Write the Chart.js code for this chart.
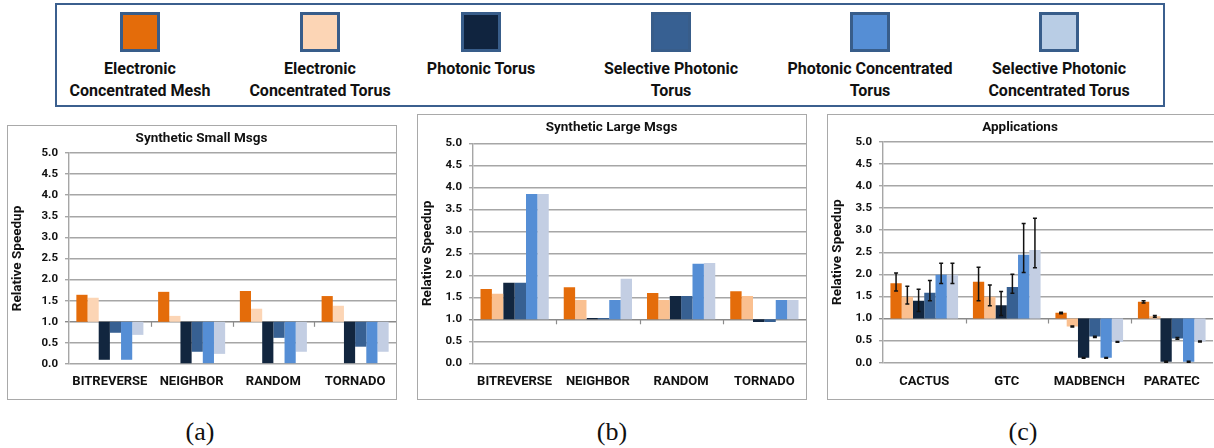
<!DOCTYPE html>
<html>
<head>
<meta charset="utf-8">
<script src="https://cdn.jsdelivr.net/npm/chart.js@4.4.1/dist/chart.umd.min.js"></script>
<style>
html,body{margin:0;padding:0;background:#fff;}
#root{position:relative;width:1214px;height:448px;overflow:hidden;background:#fff;}
.box{position:absolute;box-sizing:border-box;border:1.5px solid #a9a9a9;}
canvas{position:absolute;}
#legend{position:absolute;left:55px;top:3px;width:1110px;height:104px;box-sizing:border-box;border:2.5px solid #3b5f8e;}
.li{position:absolute;width:230px;text-align:center;font-family:Roboto,'Liberation Sans',sans-serif;font-weight:bold;font-size:16px;line-height:22px;color:#111;white-space:pre-line;}
.sw{position:absolute;width:40px;height:40px;box-sizing:border-box;border:3px solid #385d8a;}
.cap{position:absolute;width:80px;text-align:center;font-family:'Liberation Serif','DejaVu Serif',serif;font-size:26px;line-height:30px;color:#111;}
</style>
</head>
<body>
<div id="root">
  <div id="legend"></div>
  <div class="box" style="left:7px;top:125px;width:390px;height:275px;"></div>
  <div class="box" style="left:417px;top:114px;width:390px;height:286px;"></div>
  <div class="box" style="left:827px;top:114px;width:390px;height:286px;"></div>
  <canvas id="cA" width="390" height="275" style="left:7px;top:125px;"></canvas>
  <canvas id="cB" width="390" height="286" style="left:417px;top:114px;"></canvas>
  <canvas id="cC" width="388" height="286" style="left:827px;top:114px;"></canvas>
  <div class="cap" style="left:160px;top:417px;">(a)</div>
  <div class="cap" style="left:572px;top:417px;">(b)</div>
  <div class="cap" style="left:983px;top:417px;">(c)</div>
</div>
<script>
// ---------- DATA ----------
const seriesNames = [
  'Electronic\nConcentrated Mesh',
  'Electronic\nConcentrated Torus',
  'Photonic Torus',
  'Selective Photonic\nTorus',
  'Photonic Concentrated\nTorus',
  'Selective Photonic\nConcentrated Torus'
];
const syntheticCategories = ['BITREVERSE', 'NEIGHBOR', 'RANDOM', 'TORNADO'];
const appCategories = ['CACTUS', 'GTC', 'MADBENCH', 'PARATEC'];
const yTicks = [0, 0.5, 1, 1.5, 2, 2.5, 3, 3.5, 4, 4.5, 5];

// Synthetic Small Msgs (one array per series, over the categories)
const smallECM  = [1.64, 1.71, 1.73, 1.61];
const smallECT  = [1.57, 1.14, 1.31, 1.38];
const smallPT   = [0.10, 0.00, 0.02, 0.02];
const smallSPT  = [0.74, 0.29, 0.62, 0.41];
const smallPCT  = [0.10, 0.02, 0.02, 0.02];
const smallSPCT = [0.69, 0.24, 0.29, 0.29];

// Synthetic Large Msgs
const largeECM  = [1.69, 1.73, 1.60, 1.64];
const largeECT  = [1.58, 1.44, 1.44, 1.53];
const largePT   = [1.83, 1.03, 1.53, 0.94];
const largeSPT  = [1.83, 1.03, 1.53, 0.94];
const largePCT  = [3.85, 1.44, 2.26, 1.44];
const largeSPCT = [3.85, 1.92, 2.28, 1.44];

// Applications
const appECM  = [1.80, 1.83, 1.13, 1.38];
const appECT  = [1.49, 1.49, 0.82, 1.05];
const appPT   = [1.40, 1.30, 0.11, 0.02];
const appSPT  = [1.58, 1.71, 0.59, 0.55];
const appPCT  = [1.99, 2.44, 0.11, 0.02];
const appSPCT = [1.99, 2.55, 0.47, 0.48];

// Applications error bars (low / high)
const appECMLow   = [1.62, 1.40, 1.11, 1.35];
const appECMHigh  = [2.03, 2.16, 1.14, 1.40];
const appECTLow   = [1.33, 1.29, 0.81, 1.03];
const appECTHigh  = [1.73, 1.76, 0.83, 1.07];
const appPTLow    = [1.16, 1.07, 0.10, 0.01];
const appPTHigh   = [1.66, 1.61, 0.12, 0.03];
const appSPTLow   = [1.40, 1.57, 0.57, 0.53];
const appSPTHigh  = [1.86, 2.00, 0.60, 0.57];
const appPCTLow   = [1.79, 2.04, 0.10, 0.01];
const appPCTHigh  = [2.25, 3.15, 0.12, 0.03];
const appSPCTLow  = [1.79, 2.15, 0.46, 0.47];
const appSPCTHigh = [2.25, 3.27, 0.48, 0.49];

const baseline = 1.0;

// ---------- STYLES ----------
const legendColors = ['#e46c0a', '#fcd5b5', '#10243f', '#376092', '#558ed5', '#b9cde5'];
const colorsA = ['#e46c0a', '#fcd5b5', '#12263f', '#376092', '#558ed5', '#c3cee3'];
const colorsBC = ['#e46c0a', '#fac090', '#12263f', '#376092', '#558ed5', '#c3cee3'];
const legendCenters = [140, 320, 481, 671, 870, 1059];
const FONT = "Roboto, 'Liberation Sans', sans-serif";

// ---------- LEGEND ----------
const root = document.getElementById('root');
seriesNames.forEach((name, i) => {
  const sw = document.createElement('div');
  sw.className = 'sw';
  sw.style.left = (legendCenters[i] - 20) + 'px';
  sw.style.top = '12px';
  sw.style.background = legendColors[i];
  root.appendChild(sw);
  const t = document.createElement('div');
  t.className = 'li';
  t.style.left = (legendCenters[i] - 115) + 'px';
  t.style.top = '58px';
  t.textContent = name;
  root.appendChild(t);
});

// ---------- PLUGINS ----------
const catTicks = {
  id: 'catTicks',
  afterDatasetsDraw(chart) {
    const xs = chart.scales.x, ys = chart.scales.y, ctx = chart.ctx;
    const y1 = ys.getPixelForValue(baseline);
    ctx.save();
    ctx.strokeStyle = '#8c8c8c';
    ctx.lineWidth = 1.2;
    const n = chart.data.labels.length;
    for (let i = 1; i < n; i++) {
      const x = Math.round((xs.getPixelForValue(i - 1) + xs.getPixelForValue(i)) / 2) + 0.5;
      ctx.beginPath();
      ctx.moveTo(x, y1);
      ctx.lineTo(x, y1 + 5);
      ctx.stroke();
    }
    ctx.restore();
  }
};

const errorBars = {
  id: 'errorBars',
  afterDatasetsDraw(chart, args, opts) {
    if (!opts || !opts.low) return;
    const ys = chart.scales.y, ctx = chart.ctx;
    ctx.save();
    ctx.strokeStyle = '#111';
    ctx.lineWidth = 1.5;
    opts.low.forEach((lowArr, di) => {
      const meta = chart.getDatasetMeta(di);
      lowArr.forEach((lo, j) => {
        const hi = opts.high[di][j];
        const x = meta.data[j].x;
        const yl = ys.getPixelForValue(lo), yh = ys.getPixelForValue(hi);
        ctx.beginPath();
        ctx.moveTo(x, yl); ctx.lineTo(x, yh);
        ctx.moveTo(x - 2, yl); ctx.lineTo(x + 2, yl);
        ctx.moveTo(x - 2, yh); ctx.lineTo(x + 2, yh);
        ctx.stroke();
      });
    });
    ctx.restore();
  }
};

// ---------- CHARTS ----------
function makePanel(p) {
  const titleSize = 13.5, titleLH = titleSize * 1.2;
  const tPadTop = p.titleCenter - titleLH / 2;
  const tPadBottom = p.chartTop - tPadTop - titleLH;
  const xFont = 13, xLH = xFont * 1.2;
  const yTitleSize = 13.5, yTitleLH = yTitleSize * 1.2;
  const canvas = document.getElementById(p.id);
  new Chart(canvas, {
    type: 'bar',
    data: {
      labels: p.categories,
      datasets: p.values.map((vals, i) => ({
        label: seriesNames[i].replace('\n', ' '),
        data: vals.map(v => [baseline, v]),
        backgroundColor: p.colors[i],
        borderWidth: 0,
        categoryPercentage: 0.82,
        barPercentage: 1.0
      }))
    },
    options: {
      responsive: false,
      animation: false,
      devicePixelRatio: 1,
      layout: { padding: { left: 0, right: p.padRight, top: 0, bottom: 0 } },
      plugins: {
        legend: { display: false },
        tooltip: { enabled: false },
        title: {
          display: true,
          text: p.title,
          color: '#111',
          font: { family: FONT, size: titleSize, weight: 'bold' },
          padding: { top: tPadTop, bottom: tPadBottom }
        },
        errorBars: p.err || {}
      },
      scales: {
        x: {
          grid: { display: false, drawTicks: false },
          border: { display: false },
          ticks: {
            color: '#111',
            font: { family: FONT, size: xFont, weight: 'bold' },
            padding: p.xLabelOffset - xLH / 2,
            maxRotation: 0,
            autoSkip: false
          },
          afterFit(s) { s.height = p.height - p.chartBottom; }
        },
        y: {
          min: 0, max: 5,
          afterBuildTicks(s) { s.ticks = yTicks.map(v => ({ value: v })); },
          grid: {
            color: c => (c.tick && c.tick.value === baseline) ? '#8a8a8a' : '#a6a6a6',
            lineWidth: 1.4,
            tickLength: 4,
            drawTicks: true
          },
          border: { display: true, color: '#a6a6a6', width: 1.4 },
          ticks: {
            color: '#111',
            padding: 7,
            font: { family: FONT, size: 11.5, weight: 'bold' },
            callback: v => Number(v).toFixed(1)
          },
          title: {
            display: true,
            text: 'Relative Speedup',
            color: '#111',
            font: { family: FONT, size: yTitleSize, weight: 'bold' },
            padding: { top: 11 - yTitleLH / 2, bottom: 0 }
          },
          afterFit(s) { s.width = p.chartLeft; }
        }
      }
    },
    plugins: [catTicks, errorBars]
  });
}

makePanel({
  id: 'cA', height: 275, chartLeft: 62, chartTop: 28, chartBottom: 239, padRight: 1,
  titleCenter: 14, xLabelOffset: 18,
  title: 'Synthetic Small Msgs', categories: syntheticCategories,
  values: [smallECM, smallECT, smallPT, smallSPT, smallPCT, smallSPCT],
  colors: colorsA
});
makePanel({
  id: 'cB', height: 286, chartLeft: 56, chartTop: 29.3, chartBottom: 249.3, padRight: 1,
  titleCenter: 14, xLabelOffset: 18.7,
  title: 'Synthetic Large Msgs', categories: syntheticCategories,
  values: [largeECM, largeECT, largePT, largeSPT, largePCT, largeSPCT],
  colors: colorsBC
});
makePanel({
  id: 'cC', height: 286, chartLeft: 56, chartTop: 27.7, chartBottom: 248.7, padRight: 2,
  titleCenter: 14, xLabelOffset: 19.3,
  title: 'Applications', categories: appCategories,
  values: [appECM, appECT, appPT, appSPT, appPCT, appSPCT],
  colors: colorsBC,
  err: {
    low: [appECMLow, appECTLow, appPTLow, appSPTLow, appPCTLow, appSPCTLow],
    high: [appECMHigh, appECTHigh, appPTHigh, appSPTHigh, appPCTHigh, appSPCTHigh]
  }
});
</script>
</body>
</html>
